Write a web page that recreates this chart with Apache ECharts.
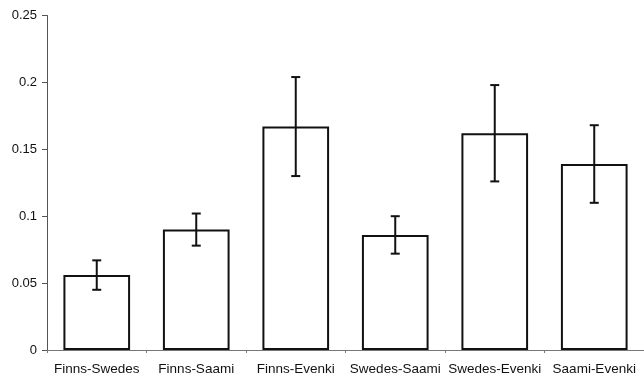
<!DOCTYPE html>
<html><head><meta charset="utf-8">
<script src="https://cdn.jsdelivr.net/npm/echarts@6/dist/echarts.min.js"></script>
<style>html,body{margin:0;padding:0;background:#fff}#c{width:644px;height:379px}</style>
</head><body><div id="c"></div>
<script>
const categories = ['Finns-Swedes','Finns-Saami','Finns-Evenki','Swedes-Saami','Swedes-Evenki','Saami-Evenki'];
const values = [0.056, 0.090, 0.167, 0.086, 0.162, 0.139];
const errLow = [0.045, 0.078, 0.130, 0.072, 0.126, 0.110];
const errHigh = [0.067, 0.102, 0.204, 0.100, 0.198, 0.168];
const yTicks = [0, 0.05, 0.1, 0.15, 0.2, 0.25];

const chart = echarts.init(document.getElementById('c'), null, {renderer:'canvas'});
const font = '"Liberation Sans", Arial, sans-serif';
chart.setOption({
  animation:false,
  grid:{left:47, right:-5, top:15.5, bottom:29, containLabel:false},
  xAxis:{type:'category', data:categories,
    axisLine:{lineStyle:{color:'#777', width:1}},
    axisTick:{show:true, length:3, lineStyle:{color:'#777'}},
    axisLabel:{interval:0, color:'#111', fontFamily:font, fontSize:13.5, margin:12}},
  yAxis:{type:'value', min:0, max:0.25, interval:0.05,
    axisLine:{show:true, lineStyle:{color:'#555', width:1}},
    axisTick:{show:true, length:5, lineStyle:{color:'#555'}},
    splitLine:{show:false},
    axisLabel:{color:'#111', fontFamily:font, fontSize:13, margin:10,
      formatter:v=>{const t=yTicks.find(x=>Math.abs(x-v)<1e-9); return t===undefined?'':String(t);}}},
  series:[
    {type:'bar', data:values, barCategoryGap:'33%',
     itemStyle:{color:'#fff', borderColor:'#111', borderWidth:2}},
    {type:'custom', data:categories.map((c,i)=>[i, errLow[i], errHigh[i]]),
     renderItem:function(params, api){
       const x = api.value(0);
       const lo = api.coord([x, api.value(1)]);
       const hi = api.coord([x, api.value(2)]);
       const w = 4.5;
       const st = {stroke:'#111', lineWidth:2};
       return {type:'group', children:[
         {type:'line', shape:{x1:lo[0], y1:lo[1], x2:hi[0], y2:hi[1]}, style:st},
         {type:'line', shape:{x1:lo[0]-w, y1:lo[1], x2:lo[0]+w, y2:lo[1]}, style:st},
         {type:'line', shape:{x1:hi[0]-w, y1:hi[1], x2:hi[0]+w, y2:hi[1]}, style:st}
       ]};
     }, z:10}
  ]
});
</script></body></html>
